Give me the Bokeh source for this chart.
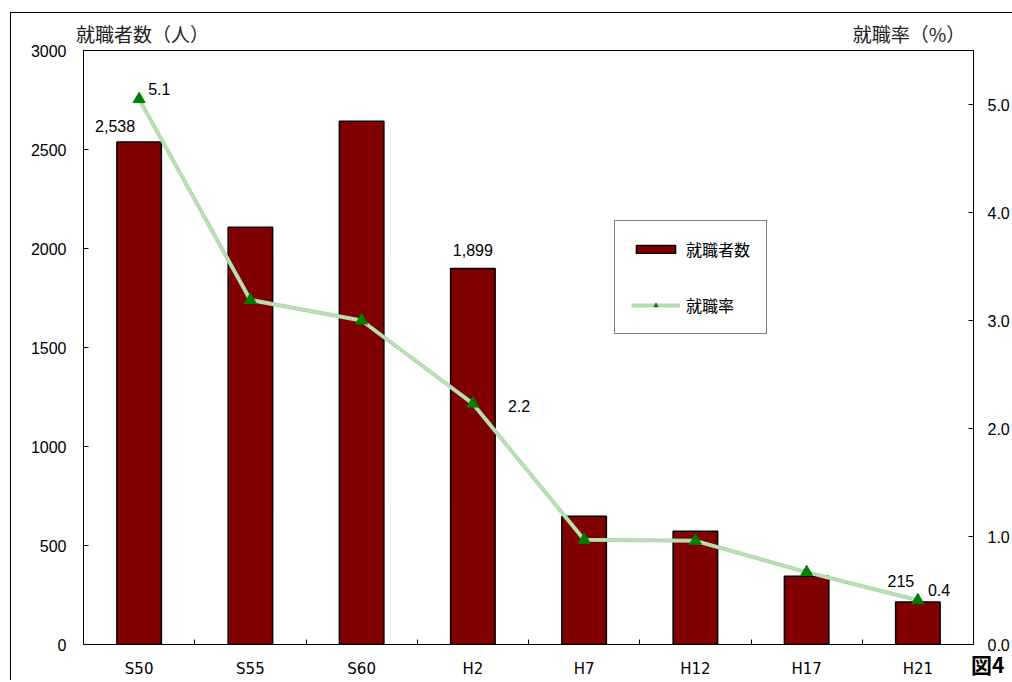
import numpy as np
from bokeh.plotting import figure
from bokeh.models import (Range1d, LinearAxis, FixedTicker, SingleIntervalTicker,
                          PrintfTickFormatter, Label, Legend, LegendItem,
                          ColumnDataSource, Div)
from bokeh.embed import file_html
from bokeh.resources import INLINE

# ---- data ----
categories = ["S50", "S55", "S60", "H2", "H7", "H12", "H17", "H21"]
employed = [2538, 2107, 2643, 1899, 648, 572, 345, 215]
rate = [5.05, 3.19, 3.00, 2.23, 0.97, 0.96, 0.67, 0.41]
employed_labels = ["2,538", "", "", "1,899", "", "", "", "215"]
rate_labels = ["5.1", "", "", "2.2", "", "", "", "0.4"]
left_title = "就職者数（人）"
right_title = "就職率（%）"
series_names = ["就職者数", "就職率"]
fig_label = "図4"

# label offsets (screen px)
bar_dx = [-24, 0, 0, 0, 0, 0, 0, -17]
bar_dy = [16, 0, 0, 18, 0, 0, 0, 21]
rate_dx = [9, 0, 0, 35, 0, 0, 0, 10]
rate_dy = [10, 0, 0, -2, 0, 0, 0, 10]
title_pos = [0.53, 7.42]

JP = "Noto Sans CJK JP"
NUM = "Liberation Sans"

xs = np.arange(len(categories)) + 0.5
src = ColumnDataSource(dict(x=xs, cat=categories, emp=employed, rate=rate))

p = figure(frame_width=890, frame_height=594, output_backend="svg",
           toolbar_location=None,
           x_range=Range1d(0, len(categories)), y_range=Range1d(0, 3000),
           min_border_left=72, min_border_top=37, min_border_right=5,
           min_border_bottom=5, x_axis_location="below")
p.margin = (12, 0, 0, 10)
p.styles = {"border-top": "1px solid black", "border-left": "1px solid black"}
p.extra_y_ranges = {"rate": Range1d(0, 5.5)}
p.xgrid.visible = False
p.ygrid.visible = False
p.outline_line_color = "black"
p.outline_line_width = 1
p.background_fill_color = "white"
p.border_fill_color = "white"

# x axis
xa = p.xaxis[0]
xa.ticker = FixedTicker(ticks=list(xs), minor_ticks=list(range(1, len(categories))))
xa.major_label_overrides = {float(x): c for x, c in zip(xs, categories)}
xa.major_tick_line_color = None
xa.major_tick_in = 0
xa.major_tick_out = 0
xa.minor_tick_in = 5
xa.minor_tick_out = 0
xa.minor_tick_line_color = "black"
xa.axis_line_color = "black"
xa.major_label_text_font = "DejaVu Sans"
xa.major_label_text_font_size = "15px"
xa.major_label_text_color = "black"
xa.major_label_standoff = 15

# axis titles drawn as labels of an invisible top axis
ta = LinearAxis(ticker=FixedTicker(ticks=title_pos, minor_ticks=[]))
ta.major_label_overrides = {title_pos[0]: left_title, title_pos[1]: right_title}
ta.axis_line_color = None
ta.major_tick_line_color = None
ta.minor_tick_line_color = None
ta.major_tick_in = 0
ta.major_tick_out = 0
ta.major_label_standoff = 4
ta.major_label_text_font = JP
ta.major_label_text_font_size = "19px"
ta.major_label_text_color = "#222222"
p.add_layout(ta, "above")

# left axis
ya = p.yaxis[0]
ya.ticker = SingleIntervalTicker(interval=500)
ya.major_tick_in = 5
ya.major_tick_out = 0
ya.minor_tick_line_color = None
ya.major_tick_line_color = "black"
ya.axis_line_color = "black"
ya.major_label_text_font = NUM
ya.major_label_text_font_size = "16px"
ya.major_label_text_color = "black"
ya.major_label_standoff = 13

# right axis
ra = LinearAxis(y_range_name="rate", ticker=SingleIntervalTicker(interval=1),
                formatter=PrintfTickFormatter(format="%.1f"))
ra.major_tick_in = 5
ra.major_tick_out = 0
ra.minor_tick_line_color = None
ra.major_tick_line_color = "black"
ra.axis_line_color = "black"
ra.major_label_text_font = NUM
ra.major_label_text_font_size = "16px"
ra.major_label_text_color = "black"
ra.major_label_standoff = 10
p.add_layout(ra, "right")

# bars
bars = p.vbar(x="x", top="emp", width=0.4, source=src, fill_color="#800000",
              line_color="black", line_width=1.5)

# rate line
l1 = p.line("x", "rate", source=src, y_range_name="rate", line_color="#b0d9aa",
            line_width=4)
l2 = p.line("x", "rate", source=src, y_range_name="rate", line_color="#dcefd8",
            line_width=1.5, line_dash="1 2")
mk = p.scatter("x", "rate", source=src, y_range_name="rate", marker="triangle",
               size=12, fill_color="#008000", line_color="#008000")

# data labels
for i, t in enumerate(employed_labels):
    if t:
        p.add_layout(Label(x=xs[i], y=employed[i], text=t, x_offset=bar_dx[i],
                           y_offset=bar_dy[i], text_align="center",
                           text_baseline="middle", text_font=NUM,
                           text_font_size="16px", text_color="black"))
for i, t in enumerate(rate_labels):
    if t:
        p.add_layout(Label(x=xs[i], y=rate[i], y_range_name="rate", text=t,
                           x_offset=rate_dx[i], y_offset=rate_dy[i],
                           text_align="left", text_baseline="middle",
                           text_font=NUM, text_font_size="16px",
                           text_color="black"))

# legend
legend = Legend(items=[LegendItem(label=series_names[0], renderers=[bars]),
                       LegendItem(label=series_names[1], renderers=[l1, l2, mk])],
                location=(531, 310), border_line_color="black",
                border_line_width=1, background_fill_color="white",
                background_fill_alpha=1, label_text_font=JP,
                label_text_font_size="16px", label_text_color="black",
                glyph_width=49, glyph_height=10, label_height=20, padding=16,
                spacing=32, label_standoff=6, margin=0)
p.add_layout(legend)

# figure number, outside the plot canvas area
fig_div = Div(text=fig_label, width=40, height=22, margin=0, styles={
    "position": "absolute", "left": "971px", "top": "654px",
    "font-family": JP, "font-size": "21px", "font-weight": "bold",
    "line-height": "1", "white-space": "nowrap", "color": "black"})

open("out.html", "w").write(file_html([p, fig_div], INLINE))
